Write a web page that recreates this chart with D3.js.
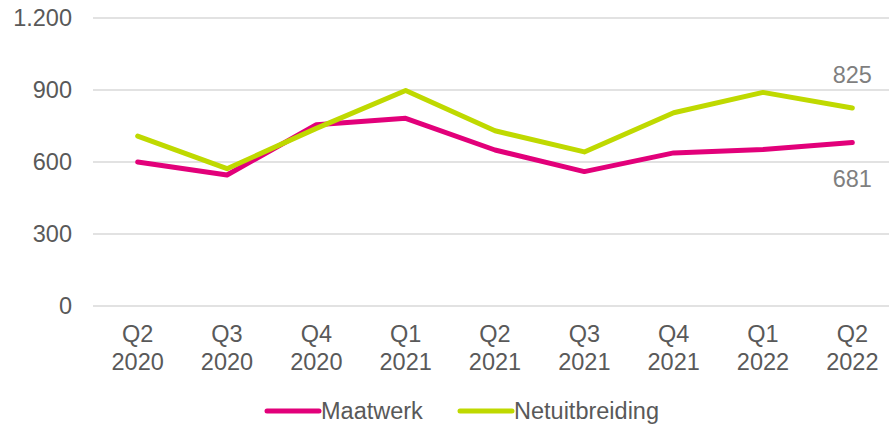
<!DOCTYPE html>
<html lang="nl">
<head>
<meta charset="UTF-8">
<title>Maatwerk en Netuitbreiding</title>
<style>
  body { margin: 0; background: #fff; }
  svg text { font-family: "Liberation Sans", Arial, sans-serif; }
</style>
</head>
<body>
<svg id="chart" width="889" height="427"></svg>
<script src="https://cdn.jsdelivr.net/npm/d3@7"></script>
<script>
// data
const quarters = ["Q2", "Q3", "Q4", "Q1", "Q2", "Q3", "Q4", "Q1", "Q2"];
const years = ["2020", "2020", "2020", "2021", "2021", "2021", "2021", "2022", "2022"];
const maatwerk = [600, 546, 755, 782, 650, 560, 638, 652, 681];
const netuitbreiding = [708, 572, 740, 898, 730, 642, 805, 890, 825];
const yTicks = [0, 300, 600, 900, 1200];

const seriesNames = ["Maatwerk", "Netuitbreiding"];
const seriesColors = ["#e2007a", "#bfd900"];

const svg = d3.select("#chart");
const plotLeft = 93, plotRight = 897, plotTop = 18, plotBottom = 306;
const fontSize = 23.5;

const x = d3.scalePoint()
  .domain(d3.range(quarters.length))
  .range([plotLeft, plotRight])
  .padding(0.5);

const y = d3.scaleLinear()
  .domain([0, 1200])
  .range([plotBottom, plotTop]);

// gridlines
svg.append("g")
  .selectAll("line")
  .data(yTicks)
  .enter()
  .append("line")
  .attr("x1", plotLeft)
  .attr("x2", 889)
  .attr("y1", d => y(d))
  .attr("y2", d => y(d))
  .attr("stroke", "#d9d9d9")
  .attr("stroke-width", 1.5);

// y labels
svg.append("g")
  .selectAll("text")
  .data(yTicks)
  .enter()
  .append("text")
  .attr("x", 72)
  .attr("y", d => y(d))
  .attr("dy", "0.35em")
  .attr("text-anchor", "end")
  .attr("font-size", fontSize)
  .attr("fill", "#595959")
  .text(d => d3.format(",")(d).replace(",", "."));

// x labels, two lines
const xl = svg.append("g")
  .selectAll("text")
  .data(quarters)
  .enter()
  .append("text")
  .attr("text-anchor", "middle")
  .attr("font-size", fontSize)
  .attr("fill", "#595959");
xl.append("tspan")
  .attr("x", (d, i) => x(i))
  .attr("y", 342)
  .text(d => d);
xl.append("tspan")
  .attr("x", (d, i) => x(i))
  .attr("y", 370)
  .text((d, i) => years[i]);

// lines
const line = d3.line()
  .x((d, i) => x(i))
  .y(d => y(d));

[maatwerk, netuitbreiding].forEach((vals, k) => {
  svg.append("path")
    .datum(vals)
    .attr("d", line)
    .attr("fill", "none")
    .attr("stroke", seriesColors[k])
    .attr("stroke-width", 5)
    .attr("stroke-linejoin", "round")
    .attr("stroke-linecap", "round");
});

// end labels
const last = quarters.length - 1;
svg.append("text")
  .attr("x", x(last))
  .attr("y", y(netuitbreiding[last]) - 25)
  .attr("text-anchor", "middle")
  .attr("font-size", fontSize)
  .attr("fill", "#7f7f7f")
  .text(netuitbreiding[last]);
svg.append("text")
  .attr("x", x(last))
  .attr("y", y(maatwerk[last]) + 44)
  .attr("text-anchor", "middle")
  .attr("font-size", fontSize)
  .attr("fill", "#7f7f7f")
  .text(maatwerk[last]);

// legend
const legendX = [265, 458];
const lg = svg.append("g")
  .selectAll("g")
  .data(seriesNames)
  .enter()
  .append("g")
  .attr("transform", (d, i) => "translate(" + legendX[i] + ",411)");
lg.append("line")
  .attr("x1", 2)
  .attr("x2", 54)
  .attr("stroke", (d, i) => seriesColors[i])
  .attr("stroke-width", 5)
  .attr("stroke-linecap", "round");
lg.append("text")
  .attr("x", 56)
  .attr("dy", "0.35em")
  .attr("font-size", fontSize)
  .attr("fill", "#595959")
  .text(d => d);
</script>
</body>
</html>
